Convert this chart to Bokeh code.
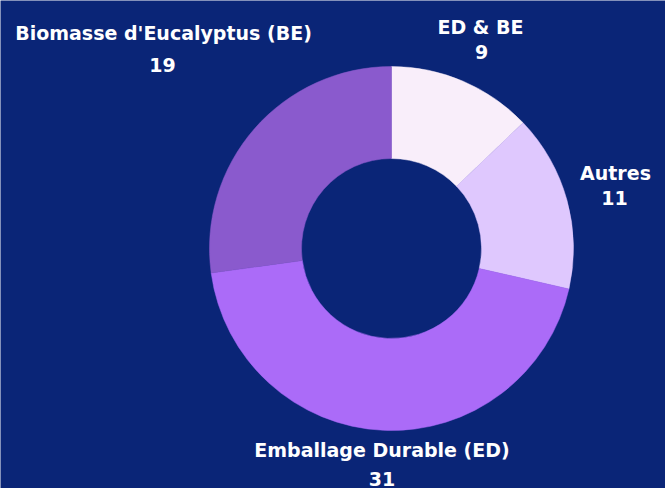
import math
from bokeh.plotting import figure
from bokeh.models import Range1d, ColumnDataSource
from bokeh.core.properties import value
from bokeh.embed import file_html
from bokeh.resources import INLINE

# ---- data ----
categories = ["ED & BE", "Autres", "Emballage Durable (ED)", "Biomasse d'Eucalyptus (BE)"]
values = [9, 11, 31, 19]
colors = ["#f9eefa", "#dfc8fe", "#ab6bf8", "#8a5acd"]

# ---- layout ----
W, H = 665, 488
BG = "#0a2577"
cx, cy = 391, 488 - 248
r_out, r_in = 182, 90
# label anchor points (page pixels), name line and value line
name_pos = [(480, 26.5), (615, 172.5), (381.5, 449.5), (163, 32)]
val_pos = [(481, 51.5), (614, 197.5), (381.5, 478), (162, 64)]

def py(y):
    return H - y

total = sum(values)
starts, ends = [], []
acc = 0.0
for v in values:
    a0 = acc / total * 2 * math.pi
    acc += v
    a1 = acc / total * 2 * math.pi
    starts.append(math.pi / 2 - a0)
    ends.append(math.pi / 2 - a1)

src = ColumnDataSource(dict(start=starts, end=ends, color=colors, cat=categories))

p = figure(width=W, height=H, output_backend="svg", toolbar_location=None,
           x_range=Range1d(0, W), y_range=Range1d(0, H), min_border=0)
p.axis.visible = False
p.grid.visible = False
p.outline_line_color = None
p.background_fill_color = BG
p.border_fill_color = BG

p.annular_wedge(x=cx, y=cy, inner_radius=r_in, outer_radius=r_out,
                start_angle="start", end_angle="end", direction="clock",
                fill_color="color", line_color="color", line_width=0.5, source=src)

lab = ColumnDataSource(dict(
    x=[a for a, b in name_pos], y=[py(b) for a, b in name_pos], t=categories))
vl = ColumnDataSource(dict(
    x=[a for a, b in val_pos], y=[py(b) for a, b in val_pos], t=[str(v) for v in values]))
for s in (lab, vl):
    p.text(x="x", y="y", text="t", source=s, text_color="white",
           text_font=value("DejaVu Sans"), text_font_style="bold", text_font_size="19px",
           text_align="center", text_baseline="middle")

html = file_html(p, INLINE)
html = html.replace("<body>", '<body style="margin:0;overflow:hidden;background:%s">' % BG, 1)
open("out.html", "w").write(html)
